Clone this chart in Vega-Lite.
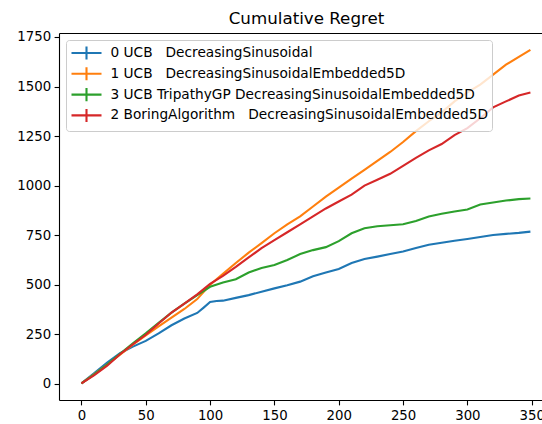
{
  "$schema": "https://vega.github.io/schema/vega-lite/v6.json",
  "autosize": {"type": "none"},
  "width": 483,
  "height": 367,
  "padding": {"left": 59, "top": 33, "right": 0, "bottom": 24},
  "background": "white",
  "title": {"text": "Cumulative Regret", "font": "DejaVu Sans", "fontSize": 16.7, "fontWeight": "normal", "color": "#000", "anchor": "middle", "frame": "group", "baseline": "alphabetic", "offset": 10, "dx": 6, "dy": 21},
  "config": {
    "view": {"stroke": null},
    "axis": {"domainColor": "#000", "domainWidth": 1.1, "tickColor": "#000", "tickWidth": 1.1, "tickSize": 4.9, "labelColor": "#000", "labelFont": "DejaVu Sans", "labelFontSize": 13.3, "labelPadding": 3.5, "grid": false, "title": null},
    "legend": {"labelFont": "DejaVu Sans", "labelFontSize": 13.7, "labelColor": "#000", "labelLimit": 0}
  },
  "data": {"values": [
    {"x":0,"a":"0 UCB\u00a0\u00a0 DecreasingSinusoidal","v":3},{"x":10,"a":"0 UCB\u00a0\u00a0 DecreasingSinusoidal","v":55},{"x":20,"a":"0 UCB\u00a0\u00a0 DecreasingSinusoidal","v":108},{"x":30,"a":"0 UCB\u00a0\u00a0 DecreasingSinusoidal","v":155},{"x":40,"a":"0 UCB\u00a0\u00a0 DecreasingSinusoidal","v":188},{"x":50,"a":"0 UCB\u00a0\u00a0 DecreasingSinusoidal","v":217},{"x":60,"a":"0 UCB\u00a0\u00a0 DecreasingSinusoidal","v":255},{"x":70,"a":"0 UCB\u00a0\u00a0 DecreasingSinusoidal","v":296},{"x":80,"a":"0 UCB\u00a0\u00a0 DecreasingSinusoidal","v":330},{"x":90,"a":"0 UCB\u00a0\u00a0 DecreasingSinusoidal","v":358},{"x":95,"a":"0 UCB\u00a0\u00a0 DecreasingSinusoidal","v":385},{"x":100,"a":"0 UCB\u00a0\u00a0 DecreasingSinusoidal","v":413},{"x":105,"a":"0 UCB\u00a0\u00a0 DecreasingSinusoidal","v":418},{"x":110,"a":"0 UCB\u00a0\u00a0 DecreasingSinusoidal","v":420},{"x":120,"a":"0 UCB\u00a0\u00a0 DecreasingSinusoidal","v":434},{"x":130,"a":"0 UCB\u00a0\u00a0 DecreasingSinusoidal","v":448},{"x":140,"a":"0 UCB\u00a0\u00a0 DecreasingSinusoidal","v":465},{"x":150,"a":"0 UCB\u00a0\u00a0 DecreasingSinusoidal","v":482},{"x":160,"a":"0 UCB\u00a0\u00a0 DecreasingSinusoidal","v":498},{"x":170,"a":"0 UCB\u00a0\u00a0 DecreasingSinusoidal","v":516},{"x":180,"a":"0 UCB\u00a0\u00a0 DecreasingSinusoidal","v":543},{"x":190,"a":"0 UCB\u00a0\u00a0 DecreasingSinusoidal","v":562},{"x":200,"a":"0 UCB\u00a0\u00a0 DecreasingSinusoidal","v":580},{"x":210,"a":"0 UCB\u00a0\u00a0 DecreasingSinusoidal","v":610},{"x":220,"a":"0 UCB\u00a0\u00a0 DecreasingSinusoidal","v":630},{"x":230,"a":"0 UCB\u00a0\u00a0 DecreasingSinusoidal","v":642},{"x":240,"a":"0 UCB\u00a0\u00a0 DecreasingSinusoidal","v":655},{"x":250,"a":"0 UCB\u00a0\u00a0 DecreasingSinusoidal","v":668},{"x":260,"a":"0 UCB\u00a0\u00a0 DecreasingSinusoidal","v":686},{"x":270,"a":"0 UCB\u00a0\u00a0 DecreasingSinusoidal","v":702},{"x":280,"a":"0 UCB\u00a0\u00a0 DecreasingSinusoidal","v":712},{"x":290,"a":"0 UCB\u00a0\u00a0 DecreasingSinusoidal","v":722},{"x":300,"a":"0 UCB\u00a0\u00a0 DecreasingSinusoidal","v":731},{"x":310,"a":"0 UCB\u00a0\u00a0 DecreasingSinusoidal","v":741},{"x":320,"a":"0 UCB\u00a0\u00a0 DecreasingSinusoidal","v":751},{"x":330,"a":"0 UCB\u00a0\u00a0 DecreasingSinusoidal","v":757},{"x":340,"a":"0 UCB\u00a0\u00a0 DecreasingSinusoidal","v":762},{"x":349,"a":"0 UCB\u00a0\u00a0 DecreasingSinusoidal","v":768},

    {"x":0,"a":"1 UCB\u00a0\u00a0 DecreasingSinusoidalEmbedded5D","v":3},{"x":10,"a":"1 UCB\u00a0\u00a0 DecreasingSinusoidalEmbedded5D","v":50},{"x":20,"a":"1 UCB\u00a0\u00a0 DecreasingSinusoidalEmbedded5D","v":98},{"x":30,"a":"1 UCB\u00a0\u00a0 DecreasingSinusoidalEmbedded5D","v":148},{"x":40,"a":"1 UCB\u00a0\u00a0 DecreasingSinusoidalEmbedded5D","v":198},{"x":50,"a":"1 UCB\u00a0\u00a0 DecreasingSinusoidalEmbedded5D","v":245},{"x":60,"a":"1 UCB\u00a0\u00a0 DecreasingSinusoidalEmbedded5D","v":290},{"x":70,"a":"1 UCB\u00a0\u00a0 DecreasingSinusoidalEmbedded5D","v":335},{"x":80,"a":"1 UCB\u00a0\u00a0 DecreasingSinusoidalEmbedded5D","v":378},{"x":90,"a":"1 UCB\u00a0\u00a0 DecreasingSinusoidalEmbedded5D","v":428},{"x":100,"a":"1 UCB\u00a0\u00a0 DecreasingSinusoidalEmbedded5D","v":500},{"x":110,"a":"1 UCB\u00a0\u00a0 DecreasingSinusoidalEmbedded5D","v":555},{"x":120,"a":"1 UCB\u00a0\u00a0 DecreasingSinusoidalEmbedded5D","v":610},{"x":130,"a":"1 UCB\u00a0\u00a0 DecreasingSinusoidalEmbedded5D","v":662},{"x":140,"a":"1 UCB\u00a0\u00a0 DecreasingSinusoidalEmbedded5D","v":710},{"x":150,"a":"1 UCB\u00a0\u00a0 DecreasingSinusoidalEmbedded5D","v":760},{"x":160,"a":"1 UCB\u00a0\u00a0 DecreasingSinusoidalEmbedded5D","v":805},{"x":170,"a":"1 UCB\u00a0\u00a0 DecreasingSinusoidalEmbedded5D","v":845},{"x":180,"a":"1 UCB\u00a0\u00a0 DecreasingSinusoidalEmbedded5D","v":895},{"x":190,"a":"1 UCB\u00a0\u00a0 DecreasingSinusoidalEmbedded5D","v":945},{"x":200,"a":"1 UCB\u00a0\u00a0 DecreasingSinusoidalEmbedded5D","v":990},{"x":210,"a":"1 UCB\u00a0\u00a0 DecreasingSinusoidalEmbedded5D","v":1035},{"x":220,"a":"1 UCB\u00a0\u00a0 DecreasingSinusoidalEmbedded5D","v":1080},{"x":230,"a":"1 UCB\u00a0\u00a0 DecreasingSinusoidalEmbedded5D","v":1125},{"x":240,"a":"1 UCB\u00a0\u00a0 DecreasingSinusoidalEmbedded5D","v":1170},{"x":250,"a":"1 UCB\u00a0\u00a0 DecreasingSinusoidalEmbedded5D","v":1220},{"x":260,"a":"1 UCB\u00a0\u00a0 DecreasingSinusoidalEmbedded5D","v":1275},{"x":270,"a":"1 UCB\u00a0\u00a0 DecreasingSinusoidalEmbedded5D","v":1325},{"x":280,"a":"1 UCB\u00a0\u00a0 DecreasingSinusoidalEmbedded5D","v":1370},{"x":290,"a":"1 UCB\u00a0\u00a0 DecreasingSinusoidalEmbedded5D","v":1425},{"x":300,"a":"1 UCB\u00a0\u00a0 DecreasingSinusoidalEmbedded5D","v":1470},{"x":310,"a":"1 UCB\u00a0\u00a0 DecreasingSinusoidalEmbedded5D","v":1510},{"x":320,"a":"1 UCB\u00a0\u00a0 DecreasingSinusoidalEmbedded5D","v":1560},{"x":330,"a":"1 UCB\u00a0\u00a0 DecreasingSinusoidalEmbedded5D","v":1610},{"x":340,"a":"1 UCB\u00a0\u00a0 DecreasingSinusoidalEmbedded5D","v":1650},{"x":349,"a":"1 UCB\u00a0\u00a0 DecreasingSinusoidalEmbedded5D","v":1685},

    {"x":0,"a":"3 UCB TripathyGP DecreasingSinusoidalEmbedded5D","v":3},{"x":10,"a":"3 UCB TripathyGP DecreasingSinusoidalEmbedded5D","v":48},{"x":20,"a":"3 UCB TripathyGP DecreasingSinusoidalEmbedded5D","v":98},{"x":30,"a":"3 UCB TripathyGP DecreasingSinusoidalEmbedded5D","v":152},{"x":40,"a":"3 UCB TripathyGP DecreasingSinusoidalEmbedded5D","v":205},{"x":50,"a":"3 UCB TripathyGP DecreasingSinusoidalEmbedded5D","v":255},{"x":60,"a":"3 UCB TripathyGP DecreasingSinusoidalEmbedded5D","v":308},{"x":70,"a":"3 UCB TripathyGP DecreasingSinusoidalEmbedded5D","v":360},{"x":80,"a":"3 UCB TripathyGP DecreasingSinusoidalEmbedded5D","v":405},{"x":90,"a":"3 UCB TripathyGP DecreasingSinusoidalEmbedded5D","v":448},{"x":100,"a":"3 UCB TripathyGP DecreasingSinusoidalEmbedded5D","v":490},{"x":110,"a":"3 UCB TripathyGP DecreasingSinusoidalEmbedded5D","v":512},{"x":120,"a":"3 UCB TripathyGP DecreasingSinusoidalEmbedded5D","v":528},{"x":130,"a":"3 UCB TripathyGP DecreasingSinusoidalEmbedded5D","v":562},{"x":140,"a":"3 UCB TripathyGP DecreasingSinusoidalEmbedded5D","v":585},{"x":150,"a":"3 UCB TripathyGP DecreasingSinusoidalEmbedded5D","v":600},{"x":160,"a":"3 UCB TripathyGP DecreasingSinusoidalEmbedded5D","v":625},{"x":170,"a":"3 UCB TripathyGP DecreasingSinusoidalEmbedded5D","v":655},{"x":180,"a":"3 UCB TripathyGP DecreasingSinusoidalEmbedded5D","v":675},{"x":190,"a":"3 UCB TripathyGP DecreasingSinusoidalEmbedded5D","v":690},{"x":200,"a":"3 UCB TripathyGP DecreasingSinusoidalEmbedded5D","v":720},{"x":210,"a":"3 UCB TripathyGP DecreasingSinusoidalEmbedded5D","v":760},{"x":220,"a":"3 UCB TripathyGP DecreasingSinusoidalEmbedded5D","v":785},{"x":230,"a":"3 UCB TripathyGP DecreasingSinusoidalEmbedded5D","v":795},{"x":240,"a":"3 UCB TripathyGP DecreasingSinusoidalEmbedded5D","v":800},{"x":250,"a":"3 UCB TripathyGP DecreasingSinusoidalEmbedded5D","v":805},{"x":260,"a":"3 UCB TripathyGP DecreasingSinusoidalEmbedded5D","v":822},{"x":270,"a":"3 UCB TripathyGP DecreasingSinusoidalEmbedded5D","v":845},{"x":280,"a":"3 UCB TripathyGP DecreasingSinusoidalEmbedded5D","v":858},{"x":290,"a":"3 UCB TripathyGP DecreasingSinusoidalEmbedded5D","v":870},{"x":300,"a":"3 UCB TripathyGP DecreasingSinusoidalEmbedded5D","v":880},{"x":310,"a":"3 UCB TripathyGP DecreasingSinusoidalEmbedded5D","v":905},{"x":320,"a":"3 UCB TripathyGP DecreasingSinusoidalEmbedded5D","v":915},{"x":330,"a":"3 UCB TripathyGP DecreasingSinusoidalEmbedded5D","v":925},{"x":340,"a":"3 UCB TripathyGP DecreasingSinusoidalEmbedded5D","v":932},{"x":349,"a":"3 UCB TripathyGP DecreasingSinusoidalEmbedded5D","v":935},

    {"x":0,"a":"2 BoringAlgorithm\u00a0\u00a0 DecreasingSinusoidalEmbedded5D","v":3},{"x":10,"a":"2 BoringAlgorithm\u00a0\u00a0 DecreasingSinusoidalEmbedded5D","v":45},{"x":20,"a":"2 BoringAlgorithm\u00a0\u00a0 DecreasingSinusoidalEmbedded5D","v":92},{"x":30,"a":"2 BoringAlgorithm\u00a0\u00a0 DecreasingSinusoidalEmbedded5D","v":150},{"x":40,"a":"2 BoringAlgorithm\u00a0\u00a0 DecreasingSinusoidalEmbedded5D","v":200},{"x":50,"a":"2 BoringAlgorithm\u00a0\u00a0 DecreasingSinusoidalEmbedded5D","v":248},{"x":60,"a":"2 BoringAlgorithm\u00a0\u00a0 DecreasingSinusoidalEmbedded5D","v":305},{"x":70,"a":"2 BoringAlgorithm\u00a0\u00a0 DecreasingSinusoidalEmbedded5D","v":360},{"x":80,"a":"2 BoringAlgorithm\u00a0\u00a0 DecreasingSinusoidalEmbedded5D","v":405},{"x":90,"a":"2 BoringAlgorithm\u00a0\u00a0 DecreasingSinusoidalEmbedded5D","v":452},{"x":100,"a":"2 BoringAlgorithm\u00a0\u00a0 DecreasingSinusoidalEmbedded5D","v":505},{"x":110,"a":"2 BoringAlgorithm\u00a0\u00a0 DecreasingSinusoidalEmbedded5D","v":545},{"x":120,"a":"2 BoringAlgorithm\u00a0\u00a0 DecreasingSinusoidalEmbedded5D","v":590},{"x":130,"a":"2 BoringAlgorithm\u00a0\u00a0 DecreasingSinusoidalEmbedded5D","v":638},{"x":140,"a":"2 BoringAlgorithm\u00a0\u00a0 DecreasingSinusoidalEmbedded5D","v":685},{"x":150,"a":"2 BoringAlgorithm\u00a0\u00a0 DecreasingSinusoidalEmbedded5D","v":725},{"x":160,"a":"2 BoringAlgorithm\u00a0\u00a0 DecreasingSinusoidalEmbedded5D","v":765},{"x":170,"a":"2 BoringAlgorithm\u00a0\u00a0 DecreasingSinusoidalEmbedded5D","v":805},{"x":180,"a":"2 BoringAlgorithm\u00a0\u00a0 DecreasingSinusoidalEmbedded5D","v":845},{"x":190,"a":"2 BoringAlgorithm\u00a0\u00a0 DecreasingSinusoidalEmbedded5D","v":885},{"x":200,"a":"2 BoringAlgorithm\u00a0\u00a0 DecreasingSinusoidalEmbedded5D","v":920},{"x":210,"a":"2 BoringAlgorithm\u00a0\u00a0 DecreasingSinusoidalEmbedded5D","v":955},{"x":220,"a":"2 BoringAlgorithm\u00a0\u00a0 DecreasingSinusoidalEmbedded5D","v":1000},{"x":230,"a":"2 BoringAlgorithm\u00a0\u00a0 DecreasingSinusoidalEmbedded5D","v":1030},{"x":240,"a":"2 BoringAlgorithm\u00a0\u00a0 DecreasingSinusoidalEmbedded5D","v":1060},{"x":250,"a":"2 BoringAlgorithm\u00a0\u00a0 DecreasingSinusoidalEmbedded5D","v":1100},{"x":260,"a":"2 BoringAlgorithm\u00a0\u00a0 DecreasingSinusoidalEmbedded5D","v":1140},{"x":270,"a":"2 BoringAlgorithm\u00a0\u00a0 DecreasingSinusoidalEmbedded5D","v":1178},{"x":280,"a":"2 BoringAlgorithm\u00a0\u00a0 DecreasingSinusoidalEmbedded5D","v":1210},{"x":290,"a":"2 BoringAlgorithm\u00a0\u00a0 DecreasingSinusoidalEmbedded5D","v":1255},{"x":300,"a":"2 BoringAlgorithm\u00a0\u00a0 DecreasingSinusoidalEmbedded5D","v":1290},{"x":310,"a":"2 BoringAlgorithm\u00a0\u00a0 DecreasingSinusoidalEmbedded5D","v":1340},{"x":320,"a":"2 BoringAlgorithm\u00a0\u00a0 DecreasingSinusoidalEmbedded5D","v":1395},{"x":330,"a":"2 BoringAlgorithm\u00a0\u00a0 DecreasingSinusoidalEmbedded5D","v":1425},{"x":340,"a":"2 BoringAlgorithm\u00a0\u00a0 DecreasingSinusoidalEmbedded5D","v":1455},{"x":349,"a":"2 BoringAlgorithm\u00a0\u00a0 DecreasingSinusoidalEmbedded5D","v":1470}
  ]},
  "resolve": {"axis": {"x": "independent"}},
  "layer": [
    {
      "mark": {"type": "line", "strokeWidth": 2.1, "clip": true},
      "encoding": {
        "x": {"field": "x", "type": "quantitative", "scale": {"domain": [-17.45, 358], "nice": false, "zero": false}, "axis": {"orient": "bottom", "values": [0, 50, 100, 150, 200, 250, 300, 350]}},
        "y": {"field": "v", "type": "quantitative", "scale": {"domain": [-81, 1770], "nice": false, "zero": false}, "axis": {"values": [0, 250, 500, 750, 1000, 1250, 1500, 1750], "format": "d"}},
        "color": {
          "field": "a", "type": "nominal",
          "scale": {
            "domain": ["0 UCB\u00a0\u00a0 DecreasingSinusoidal", "1 UCB\u00a0\u00a0 DecreasingSinusoidalEmbedded5D", "3 UCB TripathyGP DecreasingSinusoidalEmbedded5D", "2 BoringAlgorithm\u00a0\u00a0 DecreasingSinusoidalEmbedded5D"],
            "range": ["#1f77b4", "#ff7f0e", "#2ca02c", "#d62728"]
          },
          "legend": {
            "title": null, "orient": "top-left", "offset": 7, "padding": 4,
            "symbolType": "M-1,0H3M1,-0.87V0.87", "symbolSize": 225, "symbolStrokeWidth": 2.1,
            "labelOffset": 22.5, "rowPadding": -1.2,
            "strokeColor": "#cccccc", "fillColor": "rgba(255,255,255,0.8)", "cornerRadius": 3
          }
        }
      }
    },
    {
      "mark": {"type": "line", "opacity": 0},
      "encoding": {
        "x": {"field": "x", "type": "quantitative", "axis": {"orient": "top", "labels": false, "ticks": false, "domain": true}},
        "y": {"field": "v", "type": "quantitative"}
      }
    }
  ]
}
